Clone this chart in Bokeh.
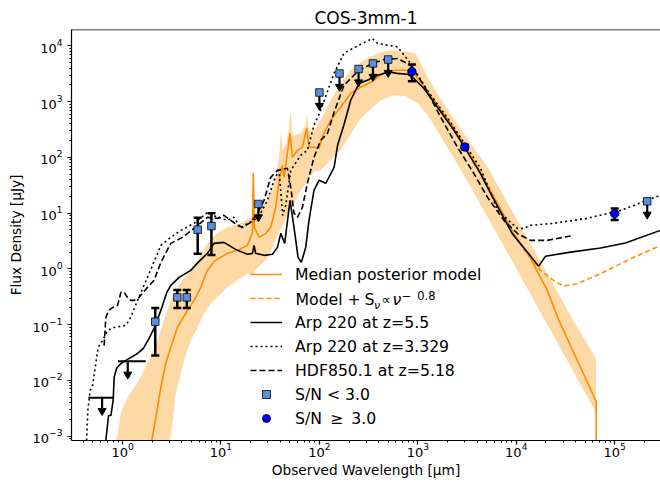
from bokeh.plotting import figure
from bokeh.models import Range1d, FixedTicker, Span, Legend, LegendItem, Label
from bokeh.embed import file_html
from bokeh.resources import INLINE

# ---------------- data ----------------
median_wl = [1.94, 2.27, 2.45, 2.75, 3.09, 3.61, 4.57, 5.33, 6.24, 6.74, 7.29, 8.51, 11.6, 14.7, 18.6,
             20.9, 21.3, 21.8, 24.4, 28.5, 32.0, 36.0, 38.9, 42.1, 43.7, 47.3, 50.3, 53.2, 59.8, 67.2,
             74.3, 78.4, 88.1, 99.1, 111, 130, 164, 208, 263, 332, 419, 490, 624, 782, 912, 1068,
             1456, 2153, 2985, 4335, 9400, 13950, 20650, 27100, 64900, 65000]
median_flux = [6.8e-4, 0.00326, 0.00746, 0.0201, 0.0390, 0.0891, 0.180, 0.272, 0.466, 0.675, 0.939,
               1.36, 1.90, 2.15, 2.64, 4.52, 51.9, 5.56, 3.67, 4.34, 5.56, 12.7, 38.8, 72.2, 43.9,
               119, 271, 100, 134, 152, 333, 152, 152, 146, 271, 464, 793, 1420, 1810, 2230, 2980,
               3520, 3670, 3670, 3240, 2230, 1060, 410, 165, 54.0, 4.34, 1.55, 0.411, 0.119,
               0.00418, 1e-5]

radio_wl = [4335, 9400, 11040, 13950, 17650, 23890, 30180, 41600, 71800, 134000, 291700]
radio_flux = [54.0, 4.34, 2.76, 1.60, 0.939, 0.621, 0.491, 0.542, 0.820, 1.42, 2.64]

band_hi_wl = [0.855, 0.962, 1.12, 1.42, 1.79, 2.27, 2.63, 3.09, 3.73, 4.57, 5.77, 7.29, 9.21, 11.6,
              15.9, 20.1, 21.0, 21.3, 21.7, 22.5, 29.6, 34.6, 38.9, 40.5, 42.4, 45.5, 49.1, 51.2,
              53.6, 64.6, 72.6, 74.3, 78.4, 87.5, 103, 130, 164, 208, 282, 390, 529, 845, 948,
              1257, 1827, 2916, 5117, 38110, 64600]
band_hi_flux = [6.8e-4, 0.00265, 0.00493, 0.00917, 0.0201, 0.0520, 0.119, 0.272, 0.506, 0.830,
                1.42, 2.87, 4.34, 5.56, 6.56, 8.41, 9.13, 134, 9.13, 9.91, 17.0, 34.3, 100, 307,
                134, 165, 347, 701, 249, 271, 377, 619, 307, 307, 464, 1060, 2140, 3670, 5540,
                7400, 8370, 7710, 7400, 2740, 935, 271, 66.4, 0.119, 0.0247]
band_lo_wl = [2.97, 3.22, 3.48, 4.22, 4.93, 5.77, 6.74, 7.88, 11.6, 18.6, 21.0, 23.1, 29.6, 37.5,
              47.3, 64.6, 87.5, 103, 164, 263, 419, 568, 751, 995, 1257, 1456, 2985, 6923,
              26100, 50500, 64600]
band_lo_flux = [6.8e-4, 0.00168, 0.00582, 0.0228, 0.0520, 0.0891, 0.159, 0.240, 0.466, 0.830,
                0.764, 1.02, 1.55, 3.99, 9.13, 25.7, 54.0, 58.6, 134, 504, 1060, 1300, 1250, 935,
                570, 377, 45.8, 3.25, 0.0479, 0.00582, 0.00265]

arp55_wl = [0.668, 0.721, 0.761, 0.803, 0.822, 0.869, 0.962, 1.08, 1.42, 1.63, 1.86, 2.09, 2.45,
            2.82, 3.09, 3.75, 4.93, 5.86, 7.29, 8.51, 10.7, 14.7, 18.6, 20.9, 21.7, 22.5, 27.4,
            33.3, 37.5, 40.5, 44.4, 50.3, 55.2, 60.7, 65.6, 72.6, 78.4, 88.1, 99.1, 116, 141,
            153, 177, 208, 252, 307, 388, 509, 620, 782, 912, 1153, 1578, 2327, 3006, 4335,
            5080, 9100, 16900, 19820, 35560, 71800, 128700, 291700]
arp55_flux = [6.8e-4, 0.00234, 0.00234, 0.00436, 0.0113, 0.0164, 0.0201, 0.0228, 0.0304, 0.0374,
              0.0566, 0.0856, 0.180, 0.379, 0.506, 0.703, 0.939, 1.31, 1.90, 2.87, 2.99, 2.15,
              1.83, 1.90, 2.64, 1.90, 1.75, 1.83, 2.43, 4.34, 2.87, 17.0, 5.56, 1.61, 1.31, 2.43,
              7.43, 25.7, 38.8, 34.3, 66.4, 165, 377, 1060, 2110, 2420, 2980, 3410, 3220, 3110,
              2600, 1720, 804, 307, 148, 51.2, 29.4, 4.29, 1.12, 1.68, 2.00, 2.37, 2.91, 4.91]

arp33_wl = [0.429, 0.444, 0.469, 0.496, 0.565, 0.627, 0.705, 0.822, 1.08, 1.21, 1.42, 1.79, 2.27,
            2.45, 3.09, 3.91, 5.33, 7.29, 9.21, 11.6, 13.6, 15.9, 18.6, 21.7, 25.3, 29.6, 34.6,
            38.9, 42.4, 45.5, 51.2, 64.6, 75.5, 88.1, 103, 141, 178, 252, 345, 391, 624, 845,
            1248, 2153, 4335, 6460, 10240, 11950, 13950, 23890, 52600, 114500, 291700]
arp33_flux = [6.8e-4, 0.00288, 0.00659, 0.00811, 0.0390, 0.0520, 0.0787, 0.0891, 0.0967, 0.135,
              0.272, 0.703, 1.90, 2.64, 3.67, 4.91, 6.56, 10.3, 8.41, 7.43, 8.41, 5.34, 6.56,
              7.43, 9.91, 17.0, 38.8, 58.6, 9.13, 13.8, 58.6, 109, 134, 377, 701, 3240, 7400,
              10300, 13600, 11040, 9590, 4830, 1600, 427, 63.7, 11.2, 5.34, 5.34, 6.04, 6.56,
              8.07, 11.2, 20.9]

hdf_wl = [0.650, 0.677, 0.726, 0.797, 0.890, 0.962, 1.04, 1.12, 1.21, 1.31, 1.47, 1.79, 2.09,
          2.45, 3.09, 4.06, 5.33, 7.29, 9.21, 10.7, 12.6, 14.7, 16.5, 20.1, 23.5, 27.4, 32.0,
          37.5, 47.3, 51.2, 55.2, 59.8, 67.2, 75.5, 88.1, 103, 121, 141, 178, 252, 345, 453,
          624, 845, 1153, 1702, 2518, 3715, 5080, 7480, 10300, 13950, 20650, 38450]
hdf_flux = [0.0423, 0.135, 0.180, 0.204, 0.221, 0.379, 0.379, 0.308, 0.272, 0.272, 0.308, 0.466,
            0.621, 1.31, 2.87, 3.67, 5.34, 8.41, 8.07, 9.13, 7.43, 6.04, 5.56, 6.84, 9.91, 17.0,
            43.9, 58.6, 63.7, 29.1, 9.91, 8.41, 12.7, 34.3, 100, 203, 271, 646, 1970, 3670,
            4830, 5700, 5940, 4510, 1970, 531, 154, 51.2, 19.5, 7.43, 4.29, 3.25, 3.25, 3.99]

# upper limits (S/N < 3)
ul_wl = [24, 100, 160, 250, 350, 500, 214000]
ul_flux = [14.6, 1460, 3200, 3850, 4850, 5700, 16.3]
# low S/N points with error bars
lo_wl = [2.15, 3.6, 4.5, 5.8, 8.0]
lo_flux = [0.113, 0.308, 0.308, 5.06, 5.87]
lo_err = [0.085, 0.11, 0.11, 3.2, 4.1]
# detections (S/N >= 3)
det_wl = [870, 3000, 100000]
det_flux = [3470, 154, 9.8]
det_err = [1150, 15, 2.3]
# broad-band upper limits drawn as horizontal bars
hl_wl = [0.62, 1.13]
hl_flux = [0.0049, 0.022]
hl_lo = [0.45, 0.90]
hl_hi = [0.82, 1.72]

x_ticks = [1, 10, 100, 1000, 10000, 100000]
y_ticks = [1e-3, 1e-2, 1e-1, 1, 10, 100, 1000, 10000]

# ---------------- figure ----------------
XMIN, XMAX = 0.303, 2.92e5
YMIN, YMAX = 8.34e-4, 1.97e4
FONT = "DejaVu Sans"
ORANGE = "#ff8c00"

p = figure(width=660, height=485, x_axis_type="log", y_axis_type="log",
           x_range=Range1d(XMIN, XMAX), y_range=Range1d(YMIN, YMAX),
           output_backend="svg", toolbar_location=None,
           min_border_left=71, min_border_right=0, min_border_top=29, min_border_bottom=45)
p.outline_line_color = None
p.xgrid.visible = False
p.ygrid.visible = False
p.background_fill_color = "white"

p.title.text = "COS-3mm-1"
p.title.align = "center"
p.title.text_font = FONT
p.title.text_font_size = "17px"
p.title.text_font_style = "normal"
p.title.text_color = "black"
p.title.standoff = 4
p.title.offset = 0

def minor(lo, hi):
    out = []
    d = 1e-4
    while d < hi:
        for m in range(2, 10):
            v = m * d
            if lo < v < hi:
                out.append(v)
        d *= 10
    return out

p.xaxis.ticker = FixedTicker(ticks=x_ticks, minor_ticks=minor(XMIN, XMAX))
p.yaxis.ticker = FixedTicker(ticks=y_ticks, minor_ticks=minor(YMIN, YMAX))
for ax in (p.xaxis, p.yaxis):
    ax.major_tick_in = 0
    ax.major_tick_out = 4
    ax.minor_tick_in = 0
    ax.minor_tick_out = 2
    ax.axis_line_width = 1.2
    ax.major_tick_line_width = 1.2
    ax.minor_tick_line_width = 1
    ax.major_label_text_font = FONT
    ax.major_label_text_font_size = "13px"
    ax.major_label_text_color = "black"
    ax.axis_label_text_font = FONT
    ax.axis_label_text_font_size = "13.7px"
    ax.axis_label_text_font_style = "normal"
    ax.axis_label_text_color = "black"
p.xaxis.axis_label = "Observed Wavelength [\u03bcm]"
p.yaxis.axis_label = "Flux Density [\u03bcJy]"
p.xaxis.major_label_standoff = -2
p.xaxis.axis_label_standoff = 2
p.yaxis.axis_label_standoff = 6

p.add_layout(Span(location=YMAX, dimension="width", line_color="black", line_width=1.5))

# shaded 16-84 percentile band
p.patch(band_hi_wl + band_lo_wl[::-1], band_hi_flux + band_lo_flux[::-1],
        fill_color="#fdd9a6", line_color=None)

r_med = p.line(median_wl, median_flux, line_color=ORANGE, line_width=1.6)
r_rad = p.line(radio_wl, radio_flux, line_color=ORANGE, line_width=1.6, line_dash="5 3")
r_a55 = p.line(arp55_wl, arp55_flux, line_color="black", line_width=1.6)
r_a33 = p.line(arp33_wl, arp33_flux, line_color="black", line_width=1.6, line_dash="2 3")
r_hdf = p.line(hdf_wl, hdf_flux, line_color="black", line_width=1.6, line_dash="6 3")

# error bars
def errbar(wl, fl, er):
    lo = [f - e for f, e in zip(fl, er)]
    hi = [f + e for f, e in zip(fl, er)]
    p.segment(wl, lo, wl, hi, line_color="black", line_width=2.5)
    p.scatter(wl, lo, marker="dash", size=8, line_color="black", line_width=2.5)
    p.scatter(wl, hi, marker="dash", size=8, line_color="black", line_width=2.5)

errbar(lo_wl, lo_flux, lo_err)
errbar(det_wl, det_flux, det_err)

# upper-limit arrows
def arrows(wl, fl):
    tip = [f * 0.58 for f in fl]
    p.segment(wl, fl, wl, tip, line_color="black", line_width=2.2)
    p.scatter(wl, tip, marker="inverted_triangle", size=8, fill_color="black",
              line_color="black")

arrows(ul_wl, ul_flux)
p.segment(hl_lo, hl_flux, hl_hi, hl_flux, line_color="black", line_width=2)
arrows(hl_wl, hl_flux)

SQ = "#5a8fe0"
r_sq = p.scatter(ul_wl, ul_flux, marker="square", size=7.5, fill_color=SQ,
                 line_color="black", line_width=0.8)
p.scatter(lo_wl, lo_flux, marker="square", size=7.5, fill_color=SQ,
          line_color="black", line_width=0.8)
r_det = p.scatter(det_wl, det_flux, marker="circle", size=8.5, fill_color="#0000ff",
                  line_color="black", line_width=0.8)

legend = Legend(items=[
    LegendItem(label="Median posterior model", renderers=[r_med]),
    LegendItem(label=" ", renderers=[r_rad]),
    LegendItem(label="Arp 220 at z=5.5", renderers=[r_a55]),
    LegendItem(label="Arp 220 at z=3.329", renderers=[r_a33]),
    LegendItem(label="HDF850.1 at z=5.18", renderers=[r_hdf]),
    LegendItem(label="S/N < 3.0", renderers=[r_sq]),
    LegendItem(label="S/N \u2009\u2265\u2009 3.0", renderers=[r_det]),
], location=(179, 12))
legend.padding = 0
legend.margin = 0
legend.spacing = 4
legend.glyph_height = 20
legend.glyph_width = 32
legend.label_height = 20
legend.label_standoff = 13
legend.label_text_font = FONT
legend.label_text_font_size = "15.7px"
legend.label_text_color = "black"
legend.border_line_color = None
legend.background_fill_alpha = 0
p.add_layout(legend)

# rich text for the second legend entry
row_y = 141
def lab(x, y, t, size, style="normal"):
    p.add_layout(Label(x=x, y=y, x_units="screen", y_units="screen", text=t,
                       text_font=FONT, text_font_size=size, text_font_style=style,
                       text_baseline="middle", text_color="black"))

lab(224, row_y, "Model +", "15.7px")
lab(293, row_y, "S", "15.7px")
lab(302.5, row_y - 6, "\u03bd", "11px", "italic")
lab(310, row_y, "\u221d", "13px")
lab(321, row_y, "\u03bd", "15.7px", "italic")
lab(330.3, row_y + 4, "\u2212", "11.5px")
lab(345.7, row_y + 4, "0.8", "11.5px")

open("out.html", "w").write(file_html(p, INLINE))
